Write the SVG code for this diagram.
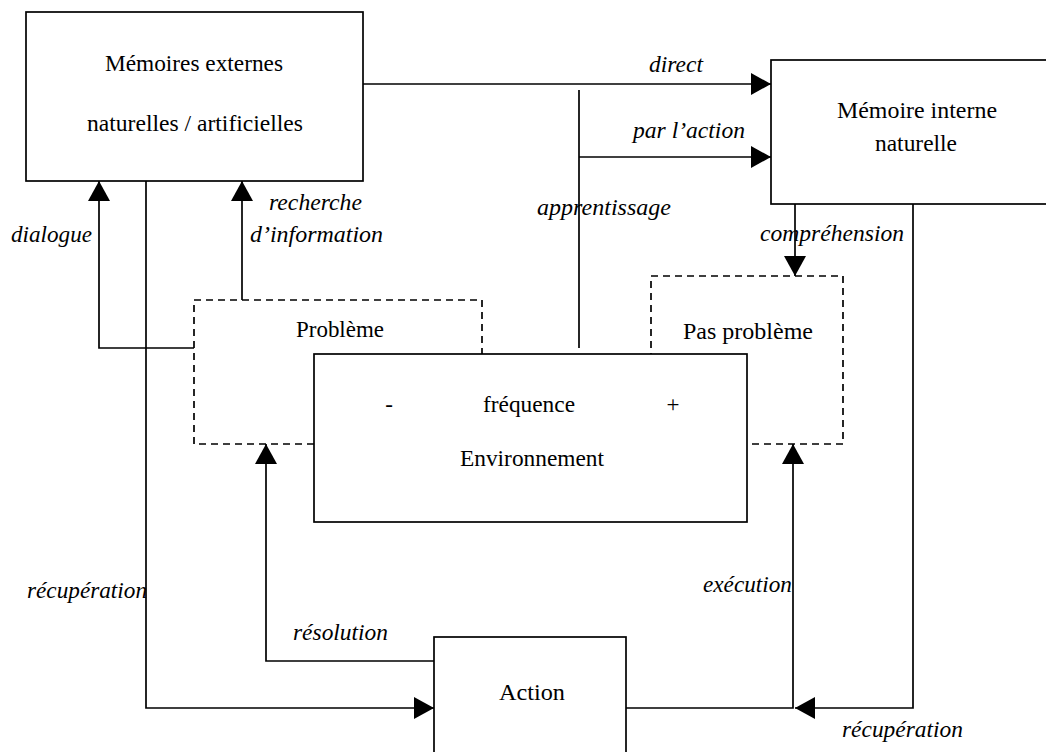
<svg xmlns="http://www.w3.org/2000/svg" width="1046" height="752" viewBox="0 0 1046 752">
<style>
.box{fill:#fff;stroke:#000;stroke-width:1.7}
.dash{fill:none;stroke:#000;stroke-width:1.7;stroke-dasharray:7 5}
.conn{fill:none;stroke:#000;stroke-width:1.7}
text{font-family:'Liberation Serif','Times New Roman',serif;font-size:23px;fill:#000}
.it{font-style:italic}
</style>
<defs>
<marker id="arr" markerUnits="userSpaceOnUse" markerWidth="20" markerHeight="22" refX="20" refY="11" orient="auto" viewBox="0 0 20 22">
<path d="M0,0 L20,11 L0,22 z" fill="#000"/>
</marker>
</defs>
<rect width="1046" height="752" fill="#fff"/>
<g id="probleme">
<rect class="dash" x="194" y="300" width="288" height="144"/>
<text x="296" y="337" textLength="88" lengthAdjust="spacingAndGlyphs">Problème</text>
</g>
<g id="pas-probleme">
<rect class="dash" x="651" y="276" width="192" height="168"/>
<text x="683" y="339" textLength="130" lengthAdjust="spacingAndGlyphs">Pas problème</text>
</g>
<g id="environnement">
<rect class="box" x="314" y="354" width="433" height="168"/>
<text x="389" y="412" text-anchor="middle">-</text>
<text x="483" y="412" textLength="92" lengthAdjust="spacingAndGlyphs">fréquence</text>
<text x="673" y="412" text-anchor="middle">+</text>
<text x="460" y="466" textLength="144" lengthAdjust="spacingAndGlyphs">Environnement</text>
</g>
<g id="memoires-externes">
<rect class="box" x="26" y="12" width="337" height="169"/>
<text x="105" y="71" textLength="178" lengthAdjust="spacingAndGlyphs">Mémoires externes</text>
<text x="87" y="131" textLength="216" lengthAdjust="spacingAndGlyphs">naturelles / artificielles</text>
</g>
<g id="memoire-interne">
<rect class="box" x="771" y="60" width="290" height="144"/>
<text x="837" y="118" textLength="160" lengthAdjust="spacingAndGlyphs">Mémoire interne</text>
<text x="875" y="151" textLength="82" lengthAdjust="spacingAndGlyphs">naturelle</text>
</g>
<g id="action">
<rect class="box" x="434" y="637" width="192" height="130"/>
<text x="499" y="700" textLength="66" lengthAdjust="spacingAndGlyphs">Action</text>
</g>
<g id="connectors">
<path class="conn" d="M363,84 H771" marker-end="url(#arr)"/>
<path class="conn" d="M579,157 H771" marker-end="url(#arr)"/>
<path class="conn" d="M579,90 V348"/>
<path class="conn" d="M795,204 V276" marker-end="url(#arr)"/>
<path class="conn" d="M913,204 V708 H795" marker-end="url(#arr)"/>
<path class="conn" d="M626,708 H793 V444" marker-end="url(#arr)"/>
<path class="conn" d="M434,661 H266 V444" marker-end="url(#arr)"/>
<path class="conn" d="M146,181 V708 H434" marker-end="url(#arr)"/>
<path class="conn" d="M194,348 H99 V181" marker-end="url(#arr)"/>
<path class="conn" d="M242,300 V181" marker-end="url(#arr)"/>
</g>
<g id="labels">
<text class="it" x="649" y="72" textLength="54" lengthAdjust="spacingAndGlyphs">direct</text>
<text class="it" x="633" y="138" textLength="112" lengthAdjust="spacingAndGlyphs">par l’action</text>
<text class="it" x="537" y="215" textLength="134" lengthAdjust="spacingAndGlyphs">apprentissage</text>
<text class="it" x="760" y="241" textLength="144" lengthAdjust="spacingAndGlyphs">compréhension</text>
<text class="it" x="11" y="242" textLength="81" lengthAdjust="spacingAndGlyphs">dialogue</text>
<text class="it" x="269" y="210" textLength="93" lengthAdjust="spacingAndGlyphs">recherche</text>
<text class="it" x="250" y="242" textLength="133" lengthAdjust="spacingAndGlyphs">d’information</text>
<text class="it" x="27" y="598" textLength="120" lengthAdjust="spacingAndGlyphs">récupération</text>
<text class="it" x="293" y="640" textLength="95" lengthAdjust="spacingAndGlyphs">résolution</text>
<text class="it" x="703" y="592" textLength="89" lengthAdjust="spacingAndGlyphs">exécution</text>
<text class="it" x="842" y="737" textLength="121" lengthAdjust="spacingAndGlyphs">récupération</text>
</g>
</svg>
